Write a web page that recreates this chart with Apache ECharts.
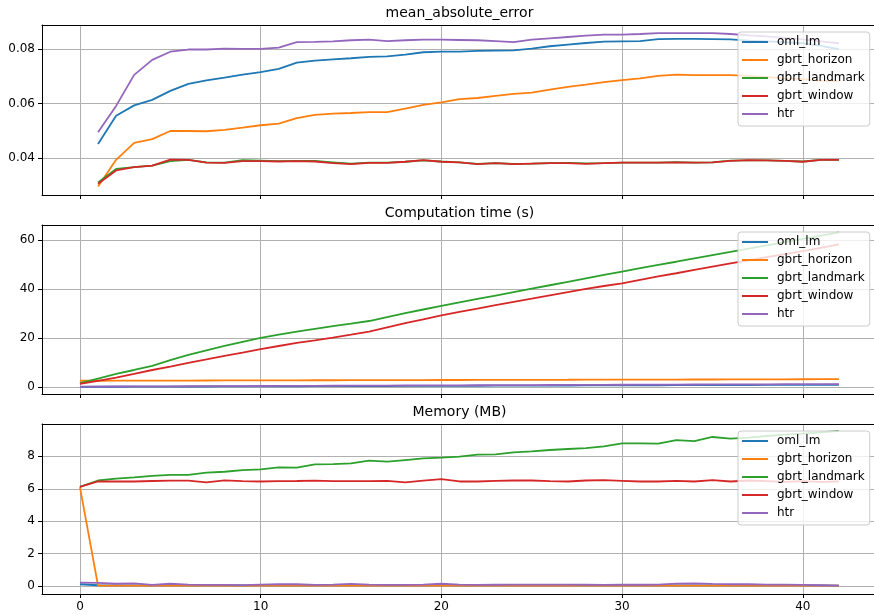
<!DOCTYPE html>
<html><head><meta charset="utf-8">
<script src="https://cdn.jsdelivr.net/npm/echarts@6/dist/echarts.min.js"></script>
<style>html,body{margin:0;padding:0;background:#fff}#c{width:874px;height:615px}</style>
</head><body><div id="c"></div>
<script>
const steps = [0,1,2,3,4,5,6,7,8,9,10,11,12,13,14,15,16,17,18,19,20,21,22,23,24,25,26,27,28,29,30,31,32,33,34,35,36,37,38,39,40,41,42];
const seriesNames = ['oml_lm','gbrt_horizon','gbrt_landmark','gbrt_window','htr'];
const panelTitles = ['mean_absolute_error','Computation time (s)','Memory (MB)'];
const colors = ['#1f77b4','#ff7f0e','#2ca02c','#d62728','#9467bd'];

const xTicks = [0,10,20,30,40];
const maeTicks = [0.04,0.06,0.08];
const timeTicks = [0,20,40,60];
const memTicks = [0,2,4,6,8];

// mean_absolute_error (no value at step 0)
const maeOml = [null,0.0452,0.0556,0.0594,0.0614,0.0647,0.0673,0.0686,0.0696,0.0707,0.0716,0.0728,0.0751,0.0758,0.0763,0.0767,0.0772,0.0774,0.0780,0.0789,0.0791,0.0791,0.0794,0.0795,0.0796,0.0802,0.0811,0.0817,0.0823,0.0828,0.0829,0.0830,0.0837,0.0838,0.0838,0.0837,0.0836,0.0832,0.0829,0.0826,0.0822,0.0812,0.0800];
const maeHorizon = [null,0.0296,0.0394,0.0456,0.0470,0.0500,0.0500,0.0499,0.0504,0.0512,0.0521,0.0527,0.0547,0.0559,0.0564,0.0566,0.0569,0.0569,0.0582,0.0596,0.0605,0.0617,0.0621,0.0629,0.0636,0.0641,0.0652,0.0662,0.0670,0.0679,0.0687,0.0693,0.0702,0.0707,0.0705,0.0705,0.0705,0.0702,0.0698,0.0693,0.0690,0.0685,0.0683];
const maeLandmark = [null,0.0311,0.0361,0.0367,0.0373,0.0389,0.0394,0.0385,0.0384,0.0393,0.0391,0.0389,0.0390,0.0390,0.0385,0.0380,0.0384,0.0384,0.0387,0.0392,0.0388,0.0385,0.0379,0.0382,0.0379,0.0380,0.0382,0.0383,0.0381,0.0382,0.0384,0.0384,0.0384,0.0386,0.0384,0.0385,0.0391,0.0392,0.0392,0.0390,0.0388,0.0394,0.0394];
const maeWindow = [null,0.0306,0.0355,0.0367,0.0373,0.0395,0.0394,0.0384,0.0383,0.0389,0.0389,0.0388,0.0389,0.0388,0.0382,0.0378,0.0383,0.0383,0.0387,0.0393,0.0387,0.0385,0.0378,0.0382,0.0378,0.0380,0.0382,0.0382,0.0379,0.0382,0.0384,0.0384,0.0384,0.0385,0.0384,0.0385,0.0390,0.0393,0.0392,0.0390,0.0387,0.0394,0.0394];
const maeHtr = [null,0.0495,0.0592,0.0706,0.0761,0.0791,0.0799,0.0799,0.0802,0.0801,0.0801,0.0806,0.0826,0.0827,0.0829,0.0833,0.0835,0.0830,0.0833,0.0835,0.0835,0.0834,0.0833,0.0830,0.0826,0.0835,0.0840,0.0845,0.0850,0.0854,0.0854,0.0856,0.0859,0.0859,0.0859,0.0859,0.0856,0.0851,0.0847,0.0842,0.0836,0.0829,0.0822];

// Computation time (s)
const timeOml = [0.02,0.05,0.07,0.09,0.11,0.13,0.15,0.17,0.19,0.21,0.23,0.25,0.27,0.29,0.31,0.33,0.35,0.37,0.39,0.41,0.43,0.45,0.47,0.49,0.51,0.53,0.55,0.57,0.59,0.61,0.63,0.65,0.67,0.69,0.71,0.73,0.75,0.77,0.79,0.81,0.83,0.85,0.87];
const timeHorizon = [2.5,2.5,2.52,2.54,2.56,2.58,2.6,2.62,2.63,2.65,2.66,2.68,2.7,2.71,2.72,2.74,2.75,2.77,2.78,2.8,2.81,2.82,2.84,2.85,2.87,2.88,2.9,2.91,2.93,2.94,2.96,2.97,2.99,3.0,3.02,3.03,3.05,3.07,3.08,3.1,3.12,3.14,3.15];
const timeLandmark = [1.5,3.4,5.3,6.9,8.6,10.9,13.1,14.9,16.7,18.4,20.0,21.3,22.6,23.7,24.8,25.8,26.9,28.5,30.1,31.6,33.1,34.5,35.9,37.3,38.7,40.1,41.5,42.9,44.3,45.7,47.1,48.5,49.8,51.1,52.5,53.8,55.1,56.5,57.8,59.1,60.4,61.8,63.1];
const timeWindow = [1.2,2.5,3.8,5.3,6.9,8.3,9.8,11.2,12.7,14.0,15.4,16.7,18.0,19.0,20.1,21.3,22.6,24.3,26.0,27.6,29.2,30.6,32.0,33.4,34.7,36.0,37.4,38.7,40.0,41.2,42.3,43.7,45.1,46.4,47.8,49.1,50.4,51.7,53.0,54.2,55.4,56.8,58.2];
const timeHtr = [0.1,0.13,0.16,0.19,0.22,0.24,0.27,0.3,0.32,0.35,0.37,0.4,0.42,0.45,0.47,0.5,0.52,0.55,0.57,0.6,0.62,0.65,0.67,0.7,0.72,0.75,0.77,0.8,0.82,0.85,0.87,0.9,0.92,0.95,0.97,1.0,1.02,1.05,1.07,1.1,1.12,1.15,1.17];

// Memory (MB)
const memOml = [0.12,0.06,0.05,0.05,0.05,0.05,0.05,0.05,0.05,0.05,0.05,0.05,0.05,0.05,0.05,0.05,0.05,0.05,0.05,0.05,0.05,0.05,0.05,0.05,0.05,0.05,0.05,0.05,0.05,0.05,0.05,0.05,0.05,0.05,0.05,0.05,0.05,0.05,0.05,0.05,0.05,0.05,0.04];
const memHorizon = [6.1,0.04,0.04,0.04,0.04,0.04,0.04,0.04,0.04,0.04,0.04,0.04,0.04,0.04,0.04,0.04,0.04,0.04,0.04,0.04,0.04,0.04,0.04,0.04,0.04,0.04,0.04,0.04,0.04,0.04,0.04,0.04,0.04,0.04,0.04,0.04,0.04,0.04,0.04,0.04,0.04,0.04,0.04];
const memLandmark = [6.12,6.51,6.63,6.70,6.80,6.86,6.86,7.00,7.05,7.15,7.19,7.32,7.30,7.50,7.52,7.56,7.73,7.67,7.77,7.87,7.92,7.98,8.10,8.12,8.24,8.30,8.39,8.45,8.51,8.61,8.80,8.80,8.78,9.00,8.93,9.19,9.09,9.15,9.25,9.34,9.40,9.48,9.57];
const memWindow = [6.12,6.45,6.45,6.45,6.48,6.50,6.50,6.40,6.52,6.47,6.45,6.47,6.48,6.50,6.47,6.47,6.47,6.49,6.40,6.50,6.59,6.45,6.45,6.49,6.51,6.51,6.47,6.45,6.51,6.53,6.49,6.45,6.45,6.49,6.45,6.53,6.45,6.51,6.47,6.43,6.47,6.43,6.45];
const memHtr = [0.22,0.20,0.15,0.18,0.08,0.15,0.10,0.08,0.08,0.07,0.10,0.12,0.12,0.08,0.10,0.14,0.10,0.08,0.08,0.10,0.15,0.10,0.08,0.09,0.10,0.10,0.10,0.10,0.09,0.08,0.10,0.09,0.10,0.16,0.18,0.14,0.12,0.12,0.10,0.10,0.08,0.06,0.03];

const panels = [
  {values:[maeOml,maeHorizon,maeLandmark,maeWindow,maeHtr], ticks:maeTicks, min:0.0265, max:0.0889, split:3, top:25, height:170},
  {values:[timeOml,timeHorizon,timeLandmark,timeWindow,timeHtr], ticks:timeTicks, min:-2.9, max:66.1, split:4, top:225, height:169},
  {values:[memOml,memHorizon,memLandmark,memWindow,memHtr], ticks:memTicks, min:-0.48, max:9.99, split:5, top:424, height:170}
];

const X_MIN = -2.1, X_MAX = 43.94; // visible part of the x range (right spine falls just outside the picture)
const FONT = 'DejaVu Sans';
const grids=[], xAxes=[], yAxes=[], series=[], titles=[], legends=[];
panels.forEach((p, pi) => {
  grids.push({left:42, top:p.top, right:0, height:p.height, show:false, containLabel:false});
  xAxes.push({
    type:'value', gridIndex:pi, position:'bottom', min:X_MIN, max:X_MAX, splitNumber:5,
    axisLine:{show:true, onZero:false, lineStyle:{color:'#000', width:1}},
    axisTick:{show:true, length:4, customValues:xTicks, lineStyle:{color:'#000', width:1}},
    axisLabel:{show: pi===2, customValues:xTicks, margin:7, color:'#000', fontSize:12, fontFamily:FONT},
    splitLine:{show:true, lineStyle:{color:'#b0b0b0', width:1}}
  });
  yAxes.push({
    type:'value', gridIndex:pi, min:p.min, max:p.max, splitNumber:p.split,
    axisLine:{show:true, onZero:false, lineStyle:{color:'#000', width:1}},
    axisTick:{show:true, length:4, customValues:p.ticks, lineStyle:{color:'#000', width:1}},
    axisLabel:{customValues:p.ticks, margin:7, color:'#000', fontSize:12, fontFamily:FONT,
      formatter: v => (pi===0 ? v.toFixed(2) : String(Math.round(v)))},
    splitLine:{show:true, lineStyle:{color:'#b0b0b0', width:1}}
  });
  titles.push({text:panelTitles[pi], left:459.5, top:p.top-19, textAlign:'center', padding:0,
    textStyle:{fontSize:14, fontWeight:'normal', color:'#000', fontFamily:FONT}});
  legends.push({
    orient:'vertical', left:738, top:p.top+7, padding:[3,5,5,4], itemGap:4,
    itemWidth:26, itemHeight:2, icon:'rect',
    backgroundColor:'rgba(255,255,255,0.8)', borderColor:'#cccccc', borderWidth:1, borderRadius:3,
    textStyle:{fontSize:12, lineHeight:14, color:'#000', fontFamily:FONT, padding:[0,0,0,4]},
    data: seriesNames.map((n,i)=>({name:n, itemStyle:{color:colors[i]}})),
    selectedMode:false, z:10
  });
  seriesNames.forEach((name, si) => {
    series.push({
      name, type:'line', xAxisIndex:pi, yAxisIndex:pi,
      data: steps.map((s, j) => [s, p.values[si][j]]),
      showSymbol:false, symbol:'none', connectNulls:false, clip:true,
      color:colors[si], lineStyle:{color:colors[si], width:1.8}, z:2+si*0.01
    });
  });
});
// top spines (axis lines only)
panels.forEach((p, pi) => {
  xAxes.push({
    type:'value', gridIndex:pi, position:'top', min:X_MIN, max:X_MAX,
    axisLine:{show:true, onZero:false, lineStyle:{color:'#000', width:1}},
    axisTick:{show:false}, axisLabel:{show:false}, splitLine:{show:false}
  });
});

const chart = echarts.init(document.getElementById('c'), null, {renderer:'canvas'});
chart.setOption({
  animation:false, backgroundColor:'#fff',
  textStyle:{fontFamily:FONT},
  title:titles, grid:grids, xAxis:xAxes, yAxis:yAxes, legend:legends, series
});
</script></body></html>
